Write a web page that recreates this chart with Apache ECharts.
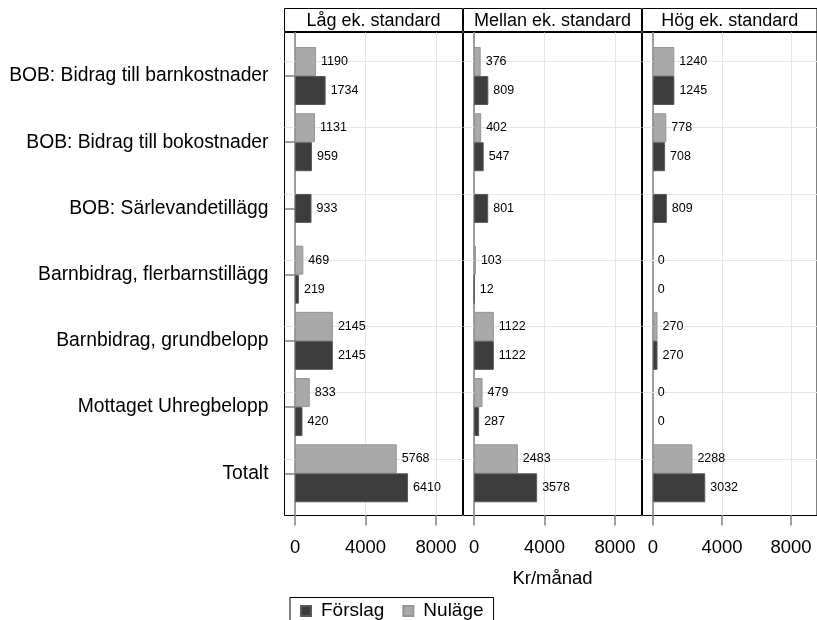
<!DOCTYPE html>
<html>
<head>
<meta charset="utf-8">
<script src="https://cdn.jsdelivr.net/npm/echarts@6/dist/echarts.min.js"></script>
<style>
html,body{margin:0;padding:0;background:#fff;}
#chart{width:817px;height:620px;}
</style>
</head>
<body>
<div id="chart"></div>
<script>
const categories = [
  'BOB: Bidrag till barnkostnader',
  'BOB: Bidrag till bokostnader',
  'BOB: Särlevandetillägg',
  'Barnbidrag, flerbarnstillägg',
  'Barnbidrag, grundbelopp',
  'Mottaget Uhregbelopp',
  'Totalt'
];
const panels = ['Låg ek. standard', 'Mellan ek. standard', 'Hög ek. standard'];
const nulageLag = [1190, 1131, null, 469, 2145, 833, 5768];
const forslagLag = [1734, 959, 933, 219, 2145, 420, 6410];
const nulageMellan = [376, 402, null, 103, 1122, 479, 2483];
const forslagMellan = [809, 547, 801, 12, 1122, 287, 3578];
const nulageHog = [1240, 778, null, 0, 270, 0, 2288];
const forslagHog = [1245, 708, 809, 0, 270, 0, 3032];
const xTicks = [0, 4000, 8000];
const xAxisTitle = 'Kr/månad';
const seriesNames = ['Förslag', 'Nuläge'];

const nulage = [nulageLag, nulageMellan, nulageHog];
const forslag = [forslagLag, forslagMellan, forslagHog];

const FONT = "'Liberation Sans', Arial, sans-serif";
const XMIN = -600, XMAX = 9500;
const panelLeft = [284.5, 463.5, 642.5];
const panelW = 178;
const frameTop = 32.5, frameH = 483;
const dataTop = 42.9, dataH = 463.5;
const headTop = 8.5, headH = 23;

const grid = [], xAxis = [], yAxis = [], series = [];
const darkStyle = { color: '#3c3c3c', borderColor: '#5a5a5a', borderWidth: 1 };
const lightStyle = { color: '#a9a9a9', borderColor: '#959595', borderWidth: 1 };
const valLabel = { show: true, position: 'right', distance: 5, fontSize: 12.5, color: '#000', fontFamily: FONT };

// zero-valued bars are drawn without an outline (invisible), but keep their label
function toItems(arr) {
  return arr.map(v => v === 0 ? { value: 0, itemStyle: { borderWidth: 0 } } : v);
}

for (let p = 0; p < 3; p++) {
  grid.push({ left: panelLeft[p], top: frameTop, width: panelW, height: frameH, show: true, borderColor: '#000', borderWidth: 1, backgroundColor: 'transparent' });
}
for (let p = 0; p < 3; p++) {
  grid.push({ left: panelLeft[p], top: dataTop, width: panelW, height: dataH, show: false });
}
for (let p = 0; p < 3; p++) {
  grid.push({ left: panelLeft[p], top: headTop, width: panelW, height: headH, show: true, borderColor: '#000', borderWidth: 1 });
}

for (let p = 0; p < 3; p++) {
  xAxis.push({
    type: 'value', gridIndex: p, min: XMIN, max: XMAX,
    axisLine: { show: false, onZero: false },
    axisTick: { show: true, customValues: xTicks, length: 10, lineStyle: { color: '#808080', width: 1.5 } },
    axisLabel: { show: true, customValues: xTicks, margin: 23, fontSize: 18.5, color: '#000', fontFamily: FONT, formatter: v => String(v) },
    splitLine: { show: true, lineStyle: { color: '#e6e6e6', width: 1 } },
    name: p === 1 ? xAxisTitle : '', nameLocation: 'middle', nameGap: 54,
    nameTextStyle: { fontSize: 18.5, color: '#000', fontFamily: FONT }
  });
  yAxis.push({
    type: 'value', gridIndex: p, min: 0, max: 1,
    axisLine: { show: true, onZero: true, lineStyle: { color: '#808080', width: 1.5 } },
    axisTick: { show: false }, axisLabel: { show: false }, splitLine: { show: false }
  });
}
for (let p = 0; p < 3; p++) {
  xAxis.push({ type: 'value', gridIndex: 3 + p, min: XMIN, max: XMAX, show: false });
  yAxis.push({
    type: 'category', gridIndex: 3 + p, data: categories, inverse: true,
    axisLine: { show: false },
    axisTick: { show: p === 0, alignWithLabel: true, length: 10, lineStyle: { color: '#808080', width: 1.5 } },
    axisLabel: { show: p === 0, margin: 16, fontSize: 19.3, color: '#000', fontFamily: FONT },
    splitLine: { show: false }
  });
}
for (let p = 0; p < 3; p++) {
  yAxis.push({ type: 'category', gridIndex: 3 + p, data: categories, inverse: true, show: false });
}
for (let p = 0; p < 3; p++) {
  xAxis.push({
    type: 'category', gridIndex: 6 + p, data: [panels[p]],
    axisLine: { show: false }, axisTick: { show: false },
    axisLabel: { show: true, inside: true, margin: 1, fontSize: 18, color: '#000', fontFamily: FONT },
    splitLine: { show: false }
  });
  yAxis.push({ type: 'value', gridIndex: 6 + p, min: 0, max: 1, show: false });
}

for (let p = 0; p < 3; p++) {
  const nu = nulage[p], fo = forslag[p];
  series.push({
    name: seriesNames[1], type: 'bar', xAxisIndex: 3 + p, yAxisIndex: 3 + p,
    data: toItems(nu), barWidth: 29, barGap: 0, itemStyle: lightStyle, label: valLabel, z: 3,
    markLine: {
      silent: true, symbol: 'none', z: 1, animation: false,
      label: { show: false },
      lineStyle: { color: '#e6e6e6', width: 1, type: 'solid' },
      data: categories.map(c => ({ yAxis: c }))
    }
  });
  series.push({
    name: seriesNames[0], type: 'bar', xAxisIndex: 3 + p, yAxisIndex: 3 + p,
    data: toItems(fo.map((v, i) => nu[i] == null ? null : v)), barWidth: 29, barGap: 0,
    itemStyle: darkStyle, label: valLabel, z: 3
  });
  series.push({
    name: seriesNames[0], type: 'bar', xAxisIndex: 3 + p, yAxisIndex: 6 + p,
    data: toItems(fo.map((v, i) => nu[i] == null ? v : null)), barWidth: 29,
    itemStyle: darkStyle, label: valLabel, z: 3
  });
}

const chart = echarts.init(document.getElementById('chart'), null, { renderer: 'canvas' });
chart.setOption({
  animation: false,
  backgroundColor: '#fff',
  textStyle: { fontFamily: FONT },
  grid, xAxis, yAxis, series,
  legend: {
    data: seriesNames, left: 290, top: 597.5, orient: 'horizontal',
    borderColor: '#000', borderWidth: 1, padding: [4, 10, 4, 10],
    icon: 'rect', itemWidth: 10, itemHeight: 10, itemGap: 18,
    textStyle: { fontSize: 19, color: '#000', fontFamily: FONT, padding: [0, 0, 0, 5] },
    selectedMode: false
  }
});
</script>
</body>
</html>
